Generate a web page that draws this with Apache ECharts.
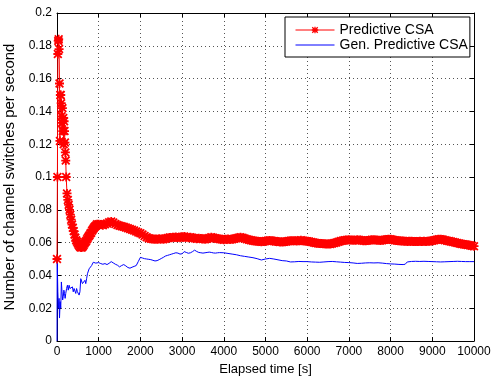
<!DOCTYPE html>
<html>
<head>
<meta charset="utf-8">
<script src="https://cdn.jsdelivr.net/npm/echarts@6/dist/echarts.min.js"></script>
<style>html,body{margin:0;padding:0;background:#fff;}#c{width:492px;height:376px;}</style>
</head>
<body>
<div id="c"></div>
<script>
// ---- data ----
const xTicks = [0,1000,2000,3000,4000,5000,6000,7000,8000,9000,10000];
const yTicks = [0,0.02,0.04,0.06,0.08,0.1,0.12,0.14,0.16,0.18,0.2];
const seriesNames = ['Predictive CSA', 'Gen. Predictive CSA'];

// Predictive CSA: [elapsed time (s), switches per second]
const predictiveCSA = [
[0,0.05],[10,0.1],[20,0.175],[30,0.183],[40,0.184],[50,0.178],[60,0.157],[70,0.122],[80,0.15],[90,0.15],
[100,0.145],[110,0.137],[120,0.133],[130,0.142],[140,0.128],[150,0.136],[160,0.12],[170,0.134],[180,0.128],[190,0.121],
[200,0.115],[210,0.11],[220,0.1],[240,0.09],[260,0.086],[280,0.083],[300,0.08],[320,0.077],[340,0.074],[360,0.071],
[380,0.069],[400,0.067],[420,0.065],[440,0.063],[460,0.0615],[480,0.0605],[500,0.0595],[520,0.0585],[540,0.0578],[560,0.0572],
[580,0.057],[600,0.0572],[620,0.0578],[640,0.0585],[660,0.0595],[680,0.0603],[700,0.061],[720,0.062],[740,0.063],[760,0.0638],
[780,0.0645],[800,0.0655],[820,0.066],[840,0.0672],[860,0.068],[880,0.0688],[900,0.0695],[920,0.07],[940,0.0705],[960,0.0712],
[980,0.0708],[1000,0.0712],[1050,0.071],[1100,0.0706],[1150,0.0712],[1200,0.0716],[1250,0.0724],[1300,0.0728],[1350,0.0722],[1400,0.0714],
[1450,0.0708],[1500,0.0703],[1550,0.07],[1600,0.0696],[1650,0.0692],[1700,0.0688],[1750,0.0683],[1800,0.0679],[1850,0.0674],[1900,0.0668],
[1950,0.0662],[2000,0.0657],[2050,0.065],[2100,0.064],[2150,0.0632],[2200,0.0627],[2250,0.0624],[2300,0.0622],[2350,0.062],[2400,0.0621],
[2450,0.0624],[2500,0.0622],[2550,0.062],[2600,0.0624],[2650,0.0628],[2700,0.0631],[2750,0.0629],[2800,0.0632],[2850,0.0634],[2900,0.0631],
[2950,0.063],[3000,0.0635],[3050,0.0637],[3100,0.0633],[3150,0.063],[3200,0.0632],[3250,0.063],[3300,0.0626],[3350,0.0624],[3400,0.0627],
[3450,0.0625],[3500,0.0622],[3550,0.062],[3600,0.0623],[3650,0.0628],[3700,0.0632],[3750,0.063],[3800,0.0626],[3850,0.0624],[3900,0.0622],
[3950,0.062],[4000,0.0618],[4050,0.062],[4100,0.0622],[4150,0.0619],[4200,0.0621],[4250,0.0624],[4300,0.0626],[4350,0.0629],[4400,0.0632],
[4450,0.063],[4500,0.0625],[4550,0.062],[4600,0.0617],[4650,0.0614],[4700,0.0612],[4750,0.061],[4800,0.0608],[4850,0.0606],[4900,0.0605],
[4950,0.0607],[5000,0.061],[5050,0.0612],[5100,0.0613],[5150,0.0611],[5200,0.0609],[5250,0.0607],[5300,0.0606],[5350,0.0604],[5400,0.0603],
[5450,0.0605],[5500,0.0607],[5550,0.0609],[5600,0.0611],[5650,0.0612],[5700,0.0611],[5750,0.0609],[5800,0.0612],[5850,0.0614],[5900,0.0612],
[5950,0.061],[6000,0.0608],[6050,0.0606],[6100,0.0603],[6150,0.0601],[6200,0.0598],[6250,0.0596],[6300,0.0595],[6350,0.0594],[6400,0.0593],
[6450,0.0592],[6500,0.0591],[6550,0.0592],[6600,0.0594],[6650,0.0597],[6700,0.0601],[6750,0.0605],[6800,0.0609],[6850,0.0612],[6900,0.0614],
[6950,0.0616],[7000,0.0617],[7050,0.0616],[7100,0.0614],[7150,0.0615],[7200,0.0617],[7250,0.0616],[7300,0.0614],[7350,0.0612],[7400,0.0611],
[7450,0.0613],[7500,0.0615],[7550,0.0617],[7600,0.0618],[7650,0.0616],[7700,0.0614],[7750,0.0613],[7800,0.0615],[7850,0.0617],[7900,0.0619],
[7950,0.0621],[8000,0.062],[8050,0.0617],[8100,0.0615],[8150,0.0613],[8200,0.0611],[8250,0.061],[8300,0.0609],[8350,0.0608],[8400,0.0607],
[8450,0.0608],[8500,0.0608],[8550,0.0607],[8600,0.0606],[8650,0.0607],[8700,0.0608],[8750,0.0607],[8800,0.0608],[8850,0.0607],[8900,0.0608],
[8950,0.061],[9000,0.0612],[9050,0.0615],[9100,0.0618],[9150,0.062],[9200,0.0621],[9250,0.0619],[9300,0.0615],[9350,0.0612],[9400,0.061],
[9450,0.0607],[9500,0.0604],[9550,0.0601],[9600,0.0598],[9650,0.0595],[9700,0.0592],[9750,0.059],[9800,0.0588],[9850,0.0586],[9900,0.0584],
[9950,0.0581],[10000,0.0578]
];

// Gen. Predictive CSA: [elapsed time (s), switches per second]
const genPredictiveCSA = [
[0,0],[5,0.049],[20,0.03],[35,0.02],[50,0.026],[60,0.014],[75,0.024],[90,0.02],[105,0.036],[120,0.03],
[135,0.025],[150,0.027],[165,0.031],[180,0.029],[195,0.026],[210,0.029],[230,0.032],[250,0.034],[270,0.031],[290,0.034],
[310,0.032],[330,0.033],[350,0.031],[370,0.033],[390,0.03],[410,0.032],[430,0.031],[450,0.029],[470,0.032],[490,0.03],
[510,0.029],[530,0.028],[550,0.03],[570,0.038],[590,0.037],[610,0.035],[630,0.036],[650,0.035],[670,0.037],[690,0.035],
[710,0.038],[730,0.041],[750,0.042],[770,0.044],[790,0.045],[810,0.044],[830,0.046],[850,0.047],[870,0.048],[890,0.0485],
[910,0.048],[930,0.0475],[950,0.0485],[970,0.047],[1000,0.0478],[1050,0.0472],[1100,0.0468],[1150,0.0472],[1200,0.0466],[1250,0.0474],
[1300,0.0484],[1350,0.0476],[1400,0.0468],[1450,0.0462],[1500,0.0452],[1550,0.046],[1600,0.0466],[1650,0.0458],[1700,0.0448],[1750,0.0444],
[1800,0.045],[1850,0.0455],[1900,0.046],[1950,0.0485],[2000,0.051],[2050,0.0506],[2100,0.0502],[2150,0.05],[2200,0.0498],[2250,0.0496],
[2300,0.0492],[2350,0.0488],[2400,0.049],[2450,0.0496],[2500,0.0503],[2550,0.051],[2600,0.0518],[2650,0.0522],[2700,0.0526],[2750,0.053],
[2800,0.0534],[2850,0.0538],[2900,0.0536],[2950,0.053],[3000,0.0532],[3050,0.0545],[3100,0.054],[3150,0.0535],[3200,0.0538],[3250,0.0545],
[3300,0.0554],[3350,0.0546],[3400,0.054],[3450,0.0538],[3500,0.0536],[3550,0.0538],[3600,0.054],[3650,0.0542],[3700,0.054],[3750,0.0537],
[3800,0.0536],[3850,0.0538],[3900,0.0539],[4000,0.0538],[4100,0.0534],[4200,0.053],[4300,0.0526],[4400,0.052],[4500,0.0516],[4600,0.0512],
[4700,0.0508],[4800,0.0502],[4900,0.0494],[5000,0.05],[5100,0.0504],[5200,0.05],[5300,0.0495],[5400,0.049],[5500,0.0488],[5600,0.0482],
[5700,0.0483],[5800,0.0485],[5900,0.0484],[6000,0.0484],[6100,0.0482],[6200,0.0481],[6300,0.048],[6400,0.0482],[6500,0.0484],[6600,0.0485],
[6700,0.0483],[6800,0.0481],[6900,0.0479],[7000,0.0478],[7100,0.0476],[7200,0.0473],[7300,0.0474],[7400,0.0476],[7500,0.0477],[7600,0.0476],
[7700,0.0477],[7800,0.0475],[7900,0.0472],[8000,0.047],[8100,0.0469],[8200,0.0467],[8300,0.0466],[8350,0.0468],[8400,0.0482],[8500,0.0485],
[8600,0.0486],[8700,0.0485],[8800,0.0486],[8900,0.0485],[9000,0.0484],[9100,0.0483],[9200,0.0482],[9300,0.0483],[9400,0.0484],[9500,0.0485],
[9600,0.0486],[9700,0.0485],[9800,0.0484],[9900,0.0484],[10000,0.0484]
];

// ---- chart ----
const FONT = '"Liberation Sans", Arial, Helvetica, sans-serif';
const asterisk = 'path://M0,8H20V12H0Z M8,0H12V20H8Z M0,2.8L2.8,0L20,17.2L17.2,20Z M17.2,0L20,2.8L2.8,20L0,17.2Z';

const xMin = xTicks[0], xMax = xTicks[xTicks.length - 1], xStep = xTicks[1] - xTicks[0];
const yMin = yTicks[0], yMax = yTicks[yTicks.length - 1], yStep = yTicks[1] - yTicks[0];

const axisLineStyle = {show: true, onZero: false, lineStyle: {color: '#000', width: 1}};
const tickStyle = {show: true, inside: true, length: 4, lineStyle: {color: '#000', width: 1}};
const gridStyle = {show: true, lineStyle: {color: '#555', width: 1, type: [1, 3]}};

const chart = echarts.init(document.getElementById('c'), null, {renderer: 'canvas'});
chart.setOption({
  animation: false,
  backgroundColor: '#fff',
  textStyle: {fontFamily: FONT},
  grid: {left: 57, right: 18, top: 13, bottom: 35, containLabel: false, outerBoundsMode: 'none'},
  legend: {
    data: [
      {name: seriesNames[0], itemStyle: {color: '#ff0000'}},
      {name: seriesNames[1], itemStyle: {color: 'rgba(0,0,0,0)', borderWidth: 0}}
    ],
    orient: 'vertical',
    left: 285, top: 17,
    padding: [6, 2, 5, 10],
    itemGap: 1,
    itemWidth: 39, itemHeight: 8,
    backgroundColor: '#fff',
    borderColor: '#000', borderWidth: 1,
    lineStyle: {width: 1},
    textStyle: {fontSize: 14, color: '#000', fontFamily: FONT}
  },
  xAxis: [{
    type: 'value', min: xMin, max: xMax, interval: xStep,
    name: 'Elapsed time [s]', nameLocation: 'middle', nameGap: 17,
    nameTextStyle: {fontSize: 13, color: '#000', fontFamily: FONT},
    axisLine: axisLineStyle, axisTick: tickStyle,
    axisLabel: {color: '#000', fontSize: 12, margin: 5, fontFamily: FONT, formatter: v => String(v)},
    splitLine: gridStyle
  }, {
    type: 'value', position: 'top', min: xMin, max: xMax, interval: xStep,
    axisLine: axisLineStyle, axisTick: tickStyle,
    axisLabel: {show: false}, splitLine: {show: false}
  }],
  yAxis: [{
    type: 'value', min: yMin, max: yMax, interval: yStep,
    name: 'Number of channel switches per second', nameLocation: 'middle', nameGap: 40,
    nameTextStyle: {fontSize: 15, color: '#000', fontFamily: FONT},
    axisLine: axisLineStyle, axisTick: tickStyle,
    axisLabel: {color: '#000', fontSize: 12, margin: 5, fontFamily: FONT},
    splitLine: gridStyle
  }, {
    type: 'value', position: 'right', min: yMin, max: yMax, interval: yStep,
    axisLine: axisLineStyle, axisTick: tickStyle,
    axisLabel: {show: false}, splitLine: {show: false}
  }],
  series: [{
    name: seriesNames[0], type: 'line',
    data: predictiveCSA,
    xAxisIndex: 0, yAxisIndex: 0,
    symbol: asterisk, symbolSize: 9,
    showSymbol: true, showAllSymbol: true, sampling: null,
    lineStyle: {color: '#ff0000', width: 1},
    itemStyle: {color: '#ff0000'},
    emphasis: {disabled: true}
  }, {
    name: seriesNames[1], type: 'line',
    data: genPredictiveCSA,
    xAxisIndex: 0, yAxisIndex: 0,
    symbol: 'none', showSymbol: false,
    lineStyle: {color: '#0000ff', width: 1},
    itemStyle: {color: '#0000ff'},
    emphasis: {disabled: true}
  }]
});
</script>
</body>
</html>
